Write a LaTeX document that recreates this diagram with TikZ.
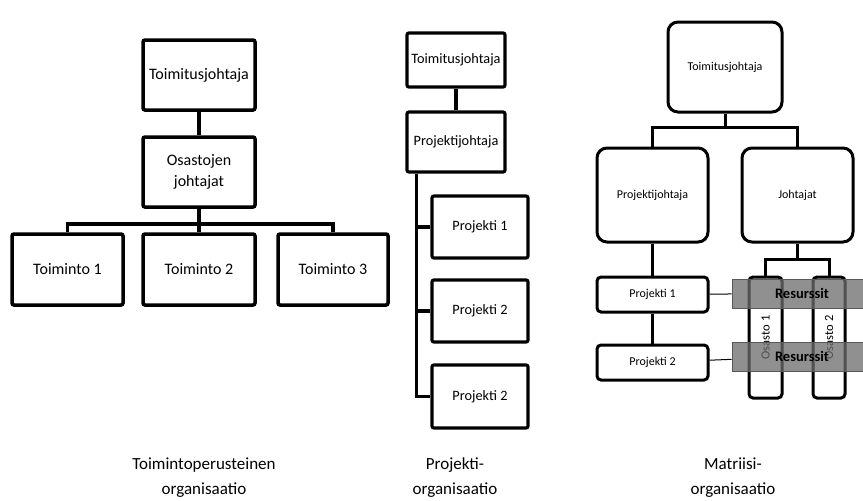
\documentclass[tikz,border=0pt]{standalone}
\usepackage{fontspec}
\setmainfont{Carlito}
\begin{document}
\begin{tikzpicture}[x=1pt,y=-1pt]

        % tyylit
        \tikzstyle{yksikko} = [rectangle, rounded corners=2pt, draw=black, line width=3.5pt, inner sep=0pt, font=\fontsize{16}{21}\selectfont]
        \tikzstyle{projekti} = [rectangle, rounded corners=2pt, draw=black, line width=3.2pt, inner sep=0pt, font=\fontsize{14.3}{17}\selectfont]
        \tikzstyle{matriisi} = [rectangle, rounded corners=10pt, draw=black, line width=3pt, inner sep=0pt, font=\fontsize{12}{14}\selectfont]
        \tikzstyle{resurssi} = [rectangle, draw=black!65, line width=1pt, fill=black!58, fill opacity=0.75, text opacity=1, minimum width=140, minimum height=29, font=\fontsize{14.5}{16}\bfseries\selectfont]
        \tikzstyle{viiva} = [line width=3.5pt]
        \tikzstyle{otsikko} = [align=center, anchor=north, font=\fontsize{17}{25}\selectfont]

        \useasboundingbox (0,0) rectangle (863,501);

        % toimintoperusteinen
        \node (tj) [yksikko, minimum width=112, minimum height=70] at (199,75) {Toimitusjohtaja};
        \node (osastot) [yksikko, align=center, minimum width=112, minimum height=70] at (199,172) {Osastojen\\johtajat};
        \node (toim1) [yksikko, minimum width=111, minimum height=71] at (67.5,269.5) {Toiminto 1};
        \node (toim2) [yksikko, minimum width=112, minimum height=71] at (199,269.5) {Toiminto 2};
        \node (toim3) [yksikko, minimum width=110, minimum height=71] at (333,269.5) {Toiminto 3};

        \draw [viiva] (tj) -- (osastot);
        \draw [viiva] (osastot.south) -- ++(0,15) coordinate (haara);
        \draw [viiva] (toim1.north) |- (haara) -| (toim3.north);
        \draw [viiva] (haara) -- (toim2.north);

        % projektiorganisaatio
        \node (ptj) [projekti, minimum width=98, minimum height=54] at (456,60) {Toimitusjohtaja};
        \node (pj) [projekti, minimum width=98, minimum height=60] at (456,142) {Projektijohtaja};
        \node (proj1) [projekti, minimum width=96, minimum height=62] at (480,227) {Projekti 1};
        \node (proj2) [projekti, minimum width=96, minimum height=62] at (480,311) {Projekti 2};
        \node (proj3) [projekti, minimum width=96, minimum height=63] at (480,396.5) {Projekti 2};

        \draw [viiva, line width=3.2pt] (ptj) -- (pj);
        \draw [viiva, line width=3.2pt] (pj.south west) ++(11,0) |- (proj3.west);
        \draw [viiva, line width=3.2pt] (pj.south west) ++(11,0) |- (proj1.west);
        \draw [viiva, line width=3.2pt] (pj.south west) ++(11,0) |- (proj2.west);

        % matriisiorganisaatio
        \node (mtj) [matriisi, minimum width=114, minimum height=90] at (725,67) {Toimitusjohtaja};
        \node (mpj) [matriisi, minimum width=111, minimum height=94] at (652.5,195) {Projektijohtaja};
        \node (joht) [matriisi, minimum width=111, minimum height=94] at (797.5,195) {Johtajat};
        \node (mp1) [matriisi, rounded corners=4pt, minimum width=111, minimum height=35] at (652.5,294.5) {Projekti 1};
        \node (mp2) [matriisi, rounded corners=4pt, minimum width=111, minimum height=35] at (652.5,362.5) {Projekti 2};
        \node (os1) [matriisi, rounded corners=4pt, rotate=90, minimum width=121, minimum height=33, font=\fontsize{12.5}{14}\selectfont] at (765.5,337.5) {Osasto 1};
        \node (os2) [matriisi, rounded corners=4pt, rotate=90, minimum width=121, minimum height=32, font=\fontsize{12.5}{14}\selectfont] at (829,337.5) {Osasto 2};

        \draw [viiva, line width=3pt] (mtj.south) -- ++(0,14) coordinate (mhaara);
        \draw [viiva, line width=3pt] (mpj.north) |- (mhaara) -| (joht.north);
        \draw [viiva, line width=3pt] (joht.south) -- ++(0,16) coordinate (ohaara);
        \draw [viiva, line width=3pt] (os1.east) |- (ohaara) -| (os2.east);
        \draw [viiva, line width=3pt] (mpj) -- (mp1);
        \draw [viiva, line width=3pt] (mp1) -- (mp2);

        \node (res1) [resurssi] at (802,293.5) {Resurssit};
        \node (res2) [resurssi] at (802,356.5) {Resurssit};
        \draw [line width=1pt] (mp1) -- (res1);
        \draw [line width=1pt] (mp2) -- (res2);

        % otsikot
        \node (ot1) [otsikko] at (204,454) {Toimintoperusteinen\\organisaatio};
        \node (ot2) [otsikko] at (455,454) {Projekti-\\organisaatio};
        \node (ot3) [otsikko] at (733,454) {Matriisi-\\organisaatio};

\end{tikzpicture}
\end{document}
